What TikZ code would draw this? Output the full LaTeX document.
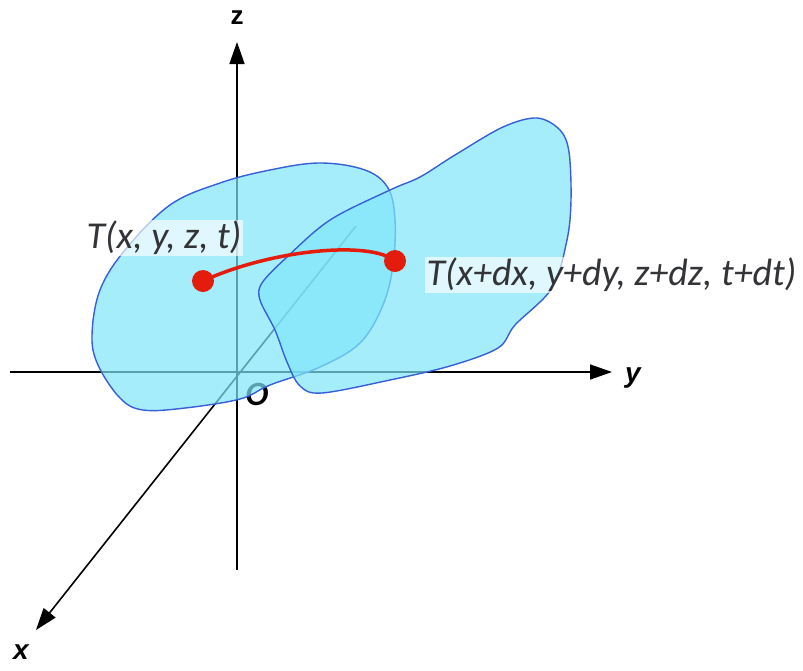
\documentclass[tikz,border=0pt]{standalone}
\usepackage{fontspec}
\usetikzlibrary{arrows.meta}
\newfontfamily\labfont{Carlito}
\newfontfamily\axfont{Liberation Sans}
\definecolor{blobfill}{RGB}{128,229,250}
\definecolor{blobline}{RGB}{55,95,215}
\definecolor{dotred}{RGB}{228,28,12}
\definecolor{txt}{RGB}{50,52,55}
\tikzset{
  axis/.style={line width=1.6pt,black,-{Triangle[length=22pt,width=15pt]}},
  blob/.style={fill=blobfill,fill opacity=0.7,draw=blobline,line width=1.4pt},
  pt/.style={circle,fill=dotred,inner sep=0pt,minimum size=22pt},
  lab/.style={font=\labfont\itshape\fontsize{38}{40}\selectfont,text=txt,fill=white,fill opacity=0.65,text opacity=1,inner sep=1.5pt},
  axlab/.style={font=\axfont\bfseries\itshape\fontsize{28}{30}\selectfont,text=black}
}
\begin{document}
\begin{tikzpicture}[x=1pt,y=-1pt]
\useasboundingbox (0,0) rectangle (803,670);
% axes
\coordinate (zb) at (237,570);
\coordinate (zt) at (237,42);
\coordinate (yl) at (10,372);
\coordinate (yr) at (612,372);
\coordinate (xb) at (356,226);
\coordinate (xt) at (36,630);
\draw[axis] (zb) -- (zt);
\draw[axis] (yl) -- (yr);
\draw[axis] (xb) -- (xt);
\node[font=\axfont\bfseries\fontsize{26}{28}\selectfont] (zl) at (237,18) {z};
\node[axlab] (ylab) at (633,378) {y};
\node[axlab] (xlab) at (21,652) {x};
\node[font=\labfont\bfseries\itshape\fontsize{34}{36}\selectfont,text=black] (ol) at (257,394) {O};
% blobs
\draw[blob] plot[smooth cycle,tension=0.6] coordinates {
 (92,335) (100,290) (125,250) (170,205) (220,183) (270,170) (320,163) (365,170)
 (388,188) (395,220) (393,265) (383,305) (360,343) (320,367) (270,385) (240,399)
 (185,408) (143,410) (120,398) (98,365)};
\draw[blob] plot[smooth cycle,tension=0.55] coordinates {
 (262,283) (287,257) (330,220) (390,190) (420,177) (455,155) (503,127) (537,118)
 (560,130) (569,152) (571,200) (567,240) (552,288) (515,325) (498,348) (450,366)
 (390,380) (322,393) (300,386) (287,362) (275,330) (260,300)};
% labels
\node[lab,anchor=west] (l1) at (85,238) {T(x, y, z, t)};
\node[lab,anchor=west] (l2) at (425,275) {T(x+dx, y+dy, z+dz, t+dt)};
% points and path
\node[pt] (a) at (203,281) {};
\node[pt] (b) at (395,261) {};
\draw[dotred,line width=3.5pt] (a.center) .. controls (270,250) and (370,240) .. (b.center);
\end{tikzpicture}
\end{document}
